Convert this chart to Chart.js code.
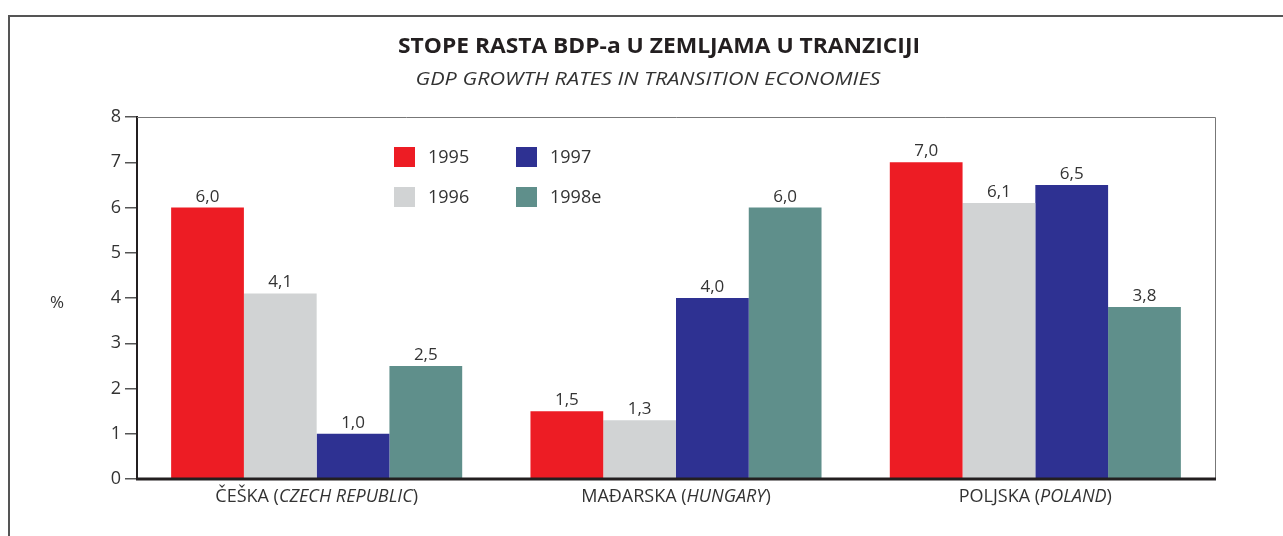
<!DOCTYPE html>
<html>
<head>
<meta charset="utf-8">
<script src="https://cdn.jsdelivr.net/npm/chart.js@4/dist/chart.umd.min.js"></script>
<style>
  html, body { margin: 0; padding: 0; background: #fff; }
  #wrap { width: 1283px; height: 536px; }
</style>
</head>
<body>
<div id="wrap"><canvas id="gdpChart" width="1283" height="536"></canvas></div>
<script>
// Data
const countries = ["ČEŠKA", "MAĐARSKA", "POLJSKA"];
const countriesEn = ["CZECH REPUBLIC", "HUNGARY", "POLAND"];
const years = ["1995", "1996", "1997", "1998e"];
const growth1995 = [6.0, 1.5, 7.0];
const growth1996 = [4.1, 1.3, 6.1];
const growth1997 = [1.0, 4.0, 6.5];
const growth1998e = [2.5, 6.0, 3.8];
const yTicks = [0, 1, 2, 3, 4, 5, 6, 7, 8];

const titleHr = "STOPE RASTA BDP-a U ZEMLJAMA U TRANZICIJI";
const titleEn = "GDP GROWTH RATES IN TRANSITION ECONOMIES";

const colors = ["#ED1C24", "#D1D3D4", "#2E3192", "#5F8F8B"];
const FONT = "'Open Sans', 'DejaVu Sans', sans-serif";
const textColor = "#333";

// draw text centred at (cx, cy), stretched horizontally to a target width
function fitText(ctx, text, cx, cy, font, targetWidth) {
  ctx.save();
  ctx.font = font;
  const w = ctx.measureText(text).width;
  ctx.translate(cx, cy);
  ctx.scale(targetWidth / w, 1);
  ctx.textAlign = "center";
  ctx.textBaseline = "middle";
  ctx.fillText(text, 0, 0);
  ctx.restore();
}

// Frame, titles, plot border, legend, labels
const decorPlugin = {
  id: "decor",
  beforeDraw(chart) {
    const ctx = chart.ctx;
    ctx.save();
    ctx.fillStyle = "#fff";
    ctx.fillRect(0, 0, chart.width, chart.height);
    // outer frame (top + left only)
    ctx.strokeStyle = "#555";
    ctx.lineWidth = 2;
    ctx.beginPath();
    ctx.moveTo(9, chart.height);
    ctx.lineTo(9, 16);
    ctx.lineTo(chart.width, 16);
    ctx.stroke();
    ctx.restore();
  },
  afterDraw(chart) {
    const ctx = chart.ctx;
    const area = chart.chartArea;
    const xScale = chart.scales.x;
    ctx.save();

    // titles
    ctx.fillStyle = "#231F20";
    fitText(ctx, titleHr, 659, 47, "bold 22px " + FONT, 522);
    ctx.fillStyle = textColor;
    fitText(ctx, titleEn, 648, 80, "italic 18px " + FONT, 465);

    // plot border: top/right thin gray, bottom thick dark
    ctx.strokeStyle = "#777";
    ctx.lineWidth = 1;
    ctx.beginPath();
    ctx.moveTo(area.left, area.top + 0.5);
    ctx.lineTo(area.right + 0.5, area.top + 0.5);
    ctx.lineTo(area.right + 0.5, area.bottom);
    ctx.stroke();
    ctx.strokeStyle = "#231F20";
    ctx.lineWidth = 3;
    ctx.beginPath();
    ctx.moveTo(area.left - 1, area.bottom);
    ctx.lineTo(area.right + 1, area.bottom);
    ctx.stroke();

    // % label
    ctx.fillStyle = textColor;
    ctx.font = "17px " + FONT;
    ctx.textAlign = "center";
    ctx.textBaseline = "middle";
    ctx.fillText("%", 57, 303);

    // value labels
    ctx.font = "17px " + FONT;
    ctx.textBaseline = "alphabetic";
    chart.data.datasets.forEach((ds, di) => {
      chart.getDatasetMeta(di).data.forEach((bar, i) => {
        const label = ds.data[i].toFixed(1).replace(".", ",");
        ctx.fillText(label, bar.x, bar.y - 6);
      });
    });

    // x category labels with italic English part
    ctx.textBaseline = "middle";
    countries.forEach((c, i) => {
      const cx = xScale.getPixelForTick(i);
      const normal1 = c + " (";
      const italic = countriesEn[i];
      const normal2 = ")";
      ctx.font = "18px " + FONT;
      const w1 = ctx.measureText(normal1).width;
      const w3 = ctx.measureText(normal2).width;
      ctx.font = "italic 18px " + FONT;
      const w2 = ctx.measureText(italic).width;
      const x = cx - (w1 + w2 + w3) / 2;
      ctx.textAlign = "left";
      ctx.font = "18px " + FONT;
      ctx.fillText(normal1, x, 497);
      ctx.font = "italic 18px " + FONT;
      ctx.fillText(italic, x + w1, 497);
      ctx.font = "18px " + FONT;
      ctx.fillText(normal2, x + w1 + w2, 497);
    });

    // legend 2x2
    const legendPos = [[394, 157], [394, 197], [516, 157], [516, 197]];
    ctx.font = "18px " + FONT;
    ctx.textAlign = "left";
    years.forEach((y, i) => {
      const [lx, ly] = legendPos[i];
      ctx.fillStyle = colors[i];
      ctx.fillRect(lx, ly - 10, 21, 20);
      ctx.fillStyle = textColor;
      ctx.fillText(y, lx + 34, ly + 1);
    });

    ctx.restore();
  }
};

const seriesData = [growth1995, growth1996, growth1997, growth1998e];

new Chart(document.getElementById("gdpChart"), {
  type: "bar",
  data: {
    labels: countries,
    datasets: years.map((y, i) => ({
      label: y,
      data: seriesData[i],
      backgroundColor: colors[i],
      borderWidth: 0,
      categoryPercentage: 0.81,
      barPercentage: 1.0
    }))
  },
  options: {
    responsive: false,
    animation: false,
    events: [],
    layout: { padding: { left: 0, top: 117, right: 68, bottom: 0 } },
    plugins: {
      legend: { display: false },
      title: { display: false },
      tooltip: { enabled: false }
    },
    scales: {
      x: {
        grid: { display: false, drawTicks: false },
        border: { display: false },
        ticks: { display: false },
        afterFit(scale) { scale.height = 57; }
      },
      y: {
        min: 0,
        max: 8,
        afterBuildTicks(scale) { scale.ticks = yTicks.map(v => ({ value: v })); },
        grid: {
          drawOnChartArea: false,
          drawTicks: true,
          tickLength: 12,
          color: "#555",
          lineWidth: 1.5
        },
        border: { display: true, color: "#231F20", width: 2 },
        ticks: {
          color: textColor,
          padding: 4,
          font: { family: FONT, size: 18 }
        },
        afterFit(scale) { scale.width = 137; }
      }
    }
  },
  plugins: [decorPlugin]
});
</script>
</body>
</html>
